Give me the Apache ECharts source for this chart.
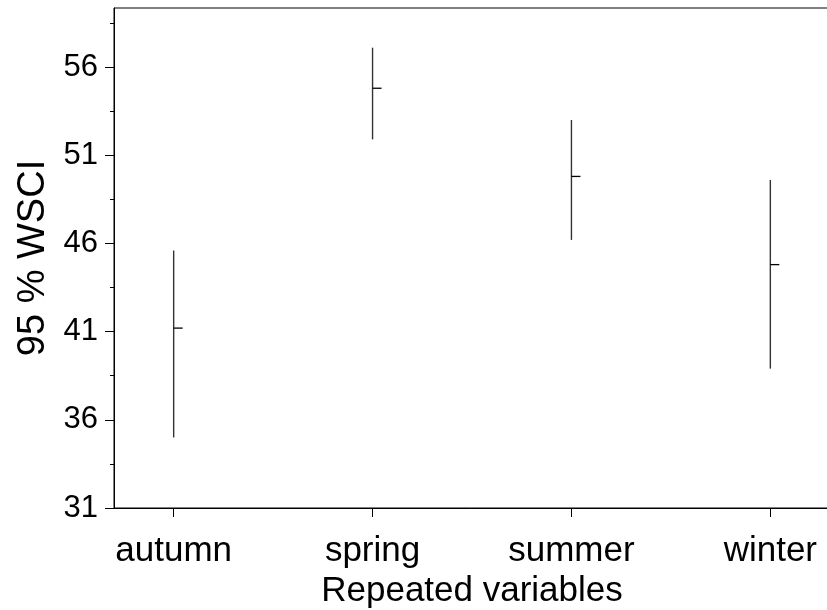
<!DOCTYPE html>
<html>
<head>
<meta charset="utf-8">
<script src="https://cdn.jsdelivr.net/npm/echarts@6/dist/echarts.min.js"></script>
<style>
html,body{margin:0;padding:0;background:#fff;}
#chart{width:827px;height:610px;}
</style>
</head>
<body>
<div id="chart"></div>
<script>
const categories = ['autumn', 'spring', 'summer', 'winter'];
const lowerValues = [35.0, 51.9, 46.2, 38.9];
const meanValues = [41.2, 54.8, 49.8, 44.8];
const upperValues = [45.6, 57.1, 53.0, 49.6];
const yMajorTicks = [31, 36, 41, 46, 51, 56];
const yMinorTicks = [33.5, 38.5, 43.5, 48.5, 53.5, 58.5];
const xPositions = [1, 2, 3, 4];

const FONT = '"Liberation Sans", Arial, Helvetica, sans-serif';

const seriesData = categories.map((c, i) => [xPositions[i], lowerValues[i], meanValues[i], upperValues[i]]);

const chart = echarts.init(document.getElementById('chart'), null, {renderer: 'canvas'});
chart.setOption({
  animation: false,
  backgroundColor: '#fff',
  grid: {
    left: 114, top: 8, width: 716, height: 500,
    outerBoundsMode: 'none', containLabel: false,
    show: true, borderColor: '#000', borderWidth: 1, backgroundColor: 'transparent'
  },
  xAxis: {
    type: 'value', min: 0.7, max: 4.3,
    name: 'Repeated variables', nameLocation: 'middle', nameGap: 60,
    nameTextStyle: {fontFamily: FONT, fontSize: 35, color: '#000'},
    axisLine: {show: true, onZero: false, lineStyle: {color: '#000', width: 1}},
    axisTick: {show: true, customValues: xPositions, length: 9, lineStyle: {color: '#000'}},
    axisLabel: {
      customValues: xPositions, margin: 26,
      fontFamily: FONT, fontSize: 35, color: '#000',
      formatter: v => categories[Math.round(v) - 1] || ''
    },
    splitLine: {show: false}
  },
  yAxis: [{
    type: 'value', min: 31, max: 59.35, position: 'left',
    name: '95 % WSCI', nameLocation: 'middle', nameGap: 61,
    nameTextStyle: {fontFamily: FONT, fontSize: 38, color: '#000'},
    axisLine: {show: true, onZero: false, lineStyle: {color: '#000', width: 1}},
    axisTick: {show: true, customValues: yMajorTicks, length: 9, lineStyle: {color: '#000'}},
    axisLabel: {customValues: yMajorTicks, margin: 16, fontFamily: FONT, fontSize: 31, color: '#000'},
    splitLine: {show: false}
  }, {
    type: 'value', min: 31, max: 59.35, position: 'left', offset: 0,
    axisLine: {show: false},
    axisTick: {show: true, customValues: yMinorTicks, length: 4, lineStyle: {color: '#000'}},
    axisLabel: {show: false},
    splitLine: {show: false}
  }],
  series: [{
    type: 'custom',
    xAxisIndex: 0, yAxisIndex: 0,
    data: seriesData,
    renderItem: function (params, api) {
      const x = api.value(0);
      const lo = api.coord([x, api.value(1)]);
      const mid = api.coord([x, api.value(2)]);
      const hi = api.coord([x, api.value(3)]);
      return {
        type: 'group',
        children: [{
          type: 'line',
          shape: {x1: lo[0], y1: lo[1], x2: hi[0], y2: hi[1]},
          style: {stroke: '#333', lineWidth: 1.4}
        }, {
          type: 'line',
          shape: {x1: mid[0], y1: mid[1], x2: mid[0] + 9, y2: mid[1]},
          style: {stroke: '#000', lineWidth: 1.3}
        }]
      };
    }
  }]
});
</script>
</body>
</html>
